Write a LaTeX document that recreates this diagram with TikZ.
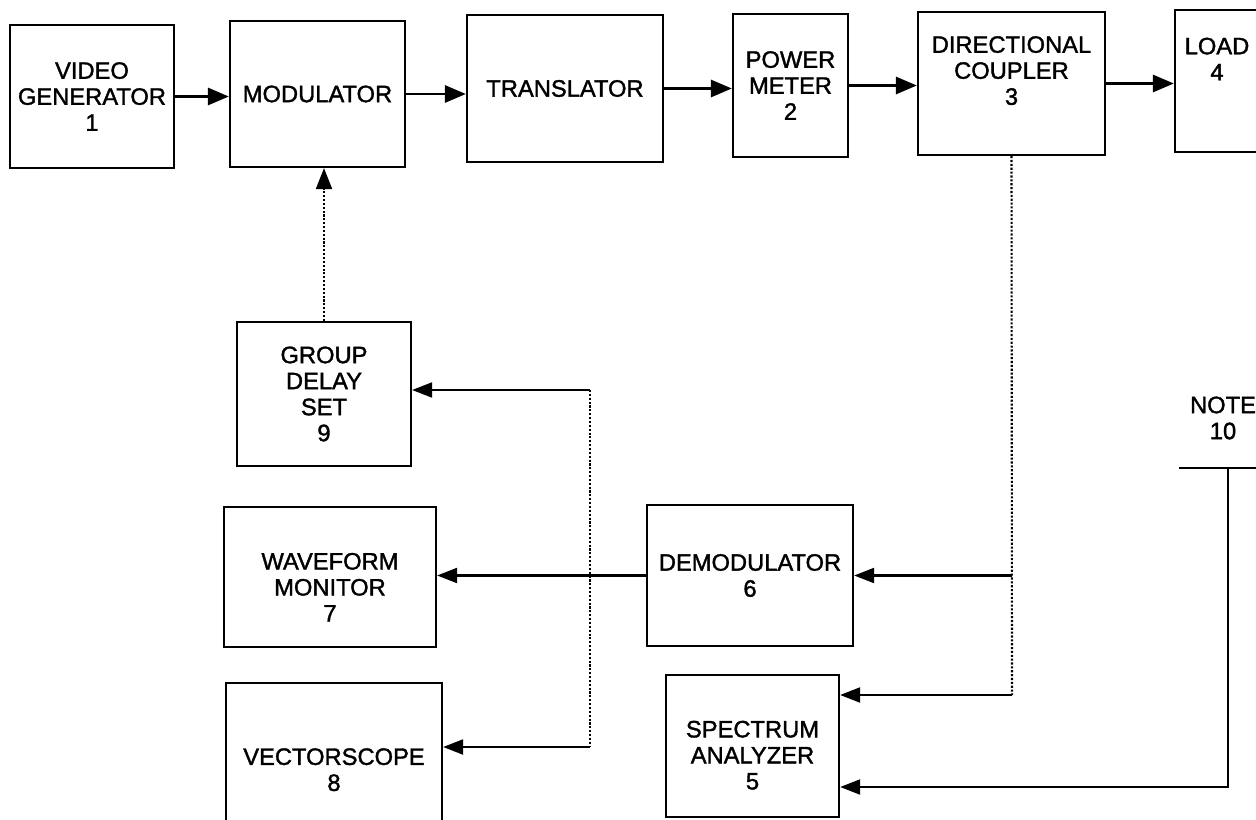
\documentclass[tikz,border=0pt]{standalone}
\usepackage{fontspec}
\setmainfont{Liberation Sans}
\newfontfamily\boxfont{Liberation Sans}[FakeBold=1.5]
\usepackage{tikz}
\usetikzlibrary{arrows.meta,positioning}

\begin{document}
\begin{tikzpicture}[x=0.02cm, y=-0.02cm,
	lbl/.style={align=center, inner sep=0pt, font=\boxfont\fontsize{13.5}{14.8}\selectfont},
	unit/.style={lbl, draw, line width=1.3pt},
	sig/.style={line width=1.7pt, -{Triangle[length=0.42cm, width=0.34cm]}},
	feed/.style={line width=1.2pt, -{Triangle[length=0.4cm, width=0.3cm]}},
	tap/.style={line width=1.2pt, densely dotted}]
	
	\useasboundingbox (0,0) rectangle (1256,820);
	\clip (0,0) rectangle (1256,820);
	
	% transmit chain
	\node[unit, minimum width=3.28cm, minimum height=2.86cm] (vg) at (92,96.5) {VIDEO\\GENERATOR\\1};
	\node[unit, minimum width=3.5cm, minimum height=2.92cm] (mod) at (317.5,94) {MODULATOR};
	\node[unit, minimum width=3.92cm, minimum height=2.94cm] (tr) at (565,88.5) {TRANSLATOR};
	\node[unit, minimum width=2.3cm, minimum height=2.86cm] (pm) at (790.5,85.5) {POWER\\METER\\2};
	\node[unit, minimum width=3.74cm, minimum height=2.86cm] (dc) at (1011.5,83.5) {DIRECTIONAL\\COUPLER\\3\\\mbox{}};
	\node[unit, minimum width=1.68cm, minimum height=2.84cm] (load) at (1217,81) {LOAD\\4\\[0.36cm]\mbox{}};
	
	% test set
	\node[unit, minimum width=3.48cm, minimum height=2.88cm] (gd) at (324,394) {GROUP\\DELAY\\SET\\9};
	\node[unit, minimum width=4.24cm, minimum height=2.8cm] (wf) at (330,577) {\mbox{}\\[0.22cm]WAVEFORM\\MONITOR\\7};
	\node[unit, minimum width=4.32cm, minimum height=2.86cm] (vs) at (334,754.5) {\mbox{}\\[0.42cm]VECTORSCOPE\\8};
	\node[unit, minimum width=4.12cm, minimum height=2.82cm] (dm) at (750,575.5) {DEMODULATOR\\6};
	\node[unit, minimum width=3.46cm, minimum height=2.84cm] (sa) at (752.5,746) {\mbox{}\\[0.18cm]SPECTRUM\\ANALYZER\\5};
	
	\node[lbl] (note) at (1223,418) {NOTE\\10};
	
	\draw[sig] (vg.east) -- (vg.east -| mod.west);
	\draw[sig] (mod.east) -- (mod.east -| tr.west);
	\draw[sig] (tr.east) -- (tr.east -| pm.west);
	\draw[sig] (pm.east) -- (pm.east -| dc.west);
	\draw[sig] (dc.east) -- (dc.east -| load.west);
	
	\draw[tap, -{Triangle[length=0.42cm, width=0.32cm]}] (gd.north) -- (gd.north |- mod.south);
	\draw[feed] (dm.west) -- (dm.west -| wf.east);
	
	% coupler sample
	\coordinate (saIn) at (1012,695);
	\draw[tap] (dc.south) -- (saIn);
	\draw[feed] (dc.south |- dm.east) -- (dm.east);
	\draw[feed] (saIn) -- (saIn -| sa.east);
	
	% monitor bus
	\coordinate (busTop) at (590,390);
	\coordinate (busBot) at (590,747);
	\draw[tap] (busTop) -- (busBot);
	\draw[feed] (busTop) -- (busTop -| gd.east);
	\draw[feed] (busBot) -- (busBot -| vs.east);
	
	% note 10
	\coordinate (noteL) at (1179,468);
	\coordinate (noteR) at (1262,468);
	\coordinate (noteTap) at (1228,468);
	\coordinate (noteBot) at (1228,787);
	\draw[line width=1.3pt] (noteL) -- (noteR);
	\draw[feed] (noteTap) -- (noteBot) -- (noteBot -| sa.east);
	
\end{tikzpicture}
\end{document}
